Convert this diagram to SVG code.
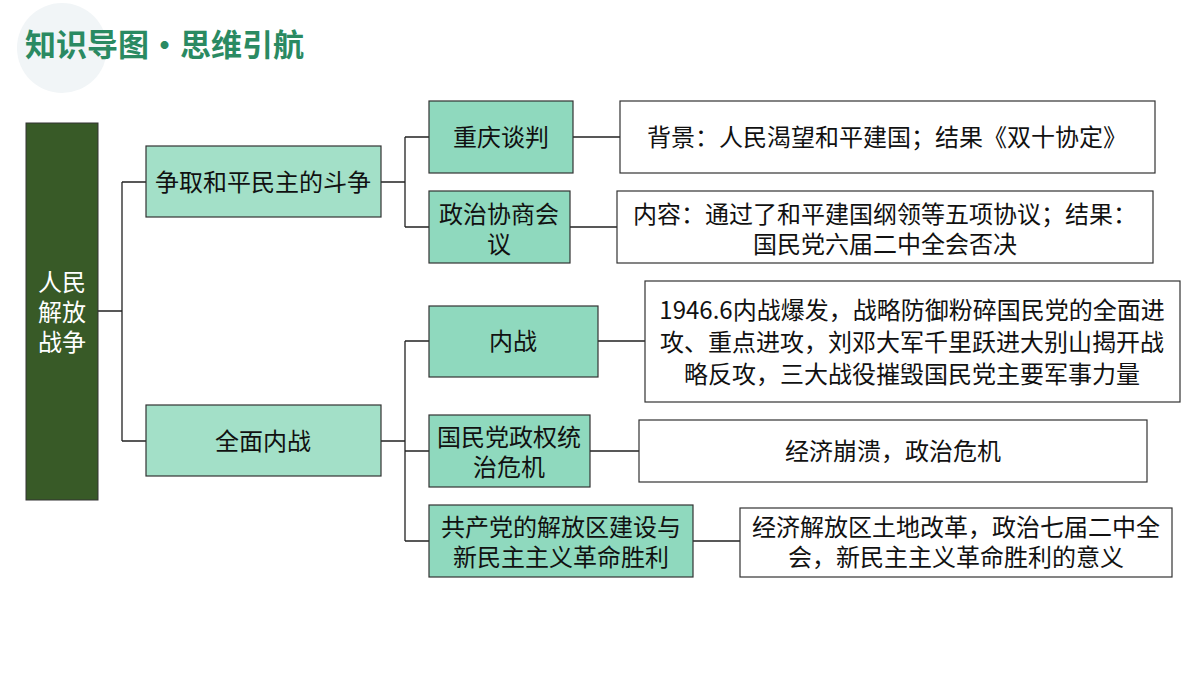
<svg xmlns="http://www.w3.org/2000/svg" width="1200" height="675" viewBox="0 0 1200 675">
<style>
text{font-family:"Noto Sans CJK SC","Liberation Sans",sans-serif;font-size:24px;fill:#111;text-anchor:middle}
.l1{fill:#a3e0c8;stroke:#333;stroke-width:1.2}
.l2{fill:#8fd9be;stroke:#333;stroke-width:1.2}
.lf{fill:#fff;stroke:#333;stroke-width:1.2}
.c{fill:none;stroke:#222;stroke-width:1.3}
</style>
<rect width="1200" height="675" fill="#fff"/>
<circle cx="62" cy="48" r="45" fill="#f1f5f7"/>
<text x="25" y="56" style="font-size:31px;font-weight:bold;fill:#2a8a62;text-anchor:start">知识导图•思维引航</text>
<g id="connectors">
<path class="c" d="M98 311H122M122 182V441M122 182H146M122 441H146"/>
<path class="c" d="M381 182H405M405 137V227M405 137H429M405 227H429"/>
<path class="c" d="M573 137H620M570 227H617"/>
<path class="c" d="M381 441H405M405 341V541M405 341H429M405 451H429M405 541H429"/>
<path class="c" d="M598 341H645M590 451H639M693 541H740"/>
</g>
<g id="root"><rect x="26" y="123" width="72" height="377" fill="#385a27" stroke="#333"/>
<text x="62" y="291" style="fill:#fff">人民</text><text x="62" y="321" style="fill:#fff">解放</text><text x="62" y="351" style="fill:#fff">战争</text></g>
<g id="n1"><rect class="l1" x="146" y="146" width="235" height="71"/><text x="263" y="191">争取和平民主的斗争</text></g>
<g id="n2"><rect class="l1" x="146" y="405" width="235" height="71"/><text x="263" y="450">全面内战</text></g>
<g id="n3"><rect class="l2" x="429" y="101" width="144" height="72"/><text x="501" y="146">重庆谈判</text></g>
<g id="n4"><rect class="l2" x="429" y="191" width="141" height="72"/><text x="499" y="223">政治协商会</text><text x="499" y="253">议</text></g>
<g id="n5"><rect class="lf" x="620" y="101" width="535" height="72"/><text x="887" y="146">背景：人民渴望和平建国；结果《双十协定》</text></g>
<g id="n6"><rect class="lf" x="617" y="191" width="536" height="72"/><text x="885" y="223">内容：通过了和平建国纲领等五项协议；结果：</text><text x="885" y="253">国民党六届二中全会否决</text></g>
<g id="n7"><rect class="l2" x="429" y="306" width="169" height="71"/><text x="513" y="350">内战</text></g>
<g id="n8"><rect class="l2" x="429" y="415" width="161" height="72"/><text x="509" y="446">国民党政权统</text><text x="509" y="476">治危机</text></g>
<g id="n9"><rect class="l2" x="429" y="505" width="264" height="72"/><text x="561" y="536">共产党的解放区建设与</text><text x="561" y="566">新民主主义革命胜利</text></g>
<g id="n10"><rect class="lf" x="645" y="281" width="535" height="121"/><text x="912" y="319">1946.6内战爆发，战略防御粉碎国民党的全面进</text><text x="912" y="351">攻、重点进攻，刘邓大军千里跃进大别山揭开战</text><text x="912" y="383">略反攻，三大战役摧毁国民党主要军事力量</text></g>
<g id="n11"><rect class="lf" x="639" y="420" width="508" height="62"/><text x="893" y="460">经济崩溃，政治危机</text></g>
<g id="n12"><rect class="lf" x="740" y="508" width="432" height="69"/><text x="956" y="536">经济解放区土地改革，政治七届二中全</text><text x="956" y="566">会，新民主主义革命胜利的意义</text></g>
</svg>
